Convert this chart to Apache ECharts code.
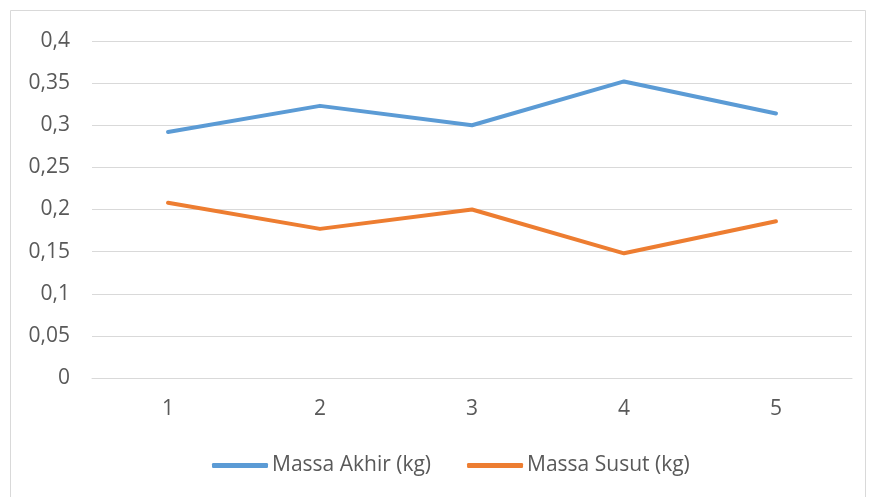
<!DOCTYPE html>
<html><head><meta charset="utf-8">
<script src="https://cdn.jsdelivr.net/npm/echarts@6/dist/echarts.min.js"></script>
<style>html,body{margin:0;padding:0;background:#fff}#c{width:869px;height:497px}</style>
</head><body><div id="c"></div>
<script>
const categories = ['1','2','3','4','5'];
const massaAkhir = [0.292, 0.323, 0.300, 0.352, 0.314];
const massaSusut = [0.208, 0.177, 0.200, 0.148, 0.186];
const seriesNames = ['Massa Akhir (kg)', 'Massa Susut (kg)'];
const fontFam = '"Open Sans", "Liberation Sans", sans-serif';
const chart = echarts.init(document.getElementById('c'));
chart.setOption({
  animation: false,
  backgroundColor: '#fff',
  graphic: [{type:'rect', shape:{x:10.5,y:10.5,width:855,height:500}, style:{fill:null, stroke:'#d9d9d9', lineWidth:1}}],
  grid: {left: 92, right: 17, top: 41, bottom: 119},
  legend: {
    data: seriesNames, top: 450, left: 207, itemWidth: 56, itemHeight: 5, itemGap: 36,
    icon: 'roundRect',
    textStyle: {fontFamily: fontFam, fontSize: 21, color: '#595959', padding:[0,0,0,-1]}
  },
  xAxis: {
    type: 'category', data: categories, boundaryGap: true,
    axisLine: {lineStyle: {color: '#d9d9d9', width: 1}},
    axisTick: {show: false},
    axisLabel: {fontFamily: fontFam, fontSize: 21, color: '#595959', margin: 21}
  },
  yAxis: {
    type: 'value', min: 0, max: 0.4, interval: 0.05,
    axisLine: {show: false}, axisTick: {show: false},
    splitLine: {lineStyle: {color: '#d9d9d9', width: 1}},
    axisLabel: {fontFamily: fontFam, fontSize: 21, color: '#595959', margin: 22,
      formatter: v => String(Math.round(v*100)/100).replace('.', ',')}
  },
  series: [
    {name: seriesNames[0], type: 'line', data: massaAkhir, symbol: 'none',
     lineStyle: {color: '#5b9bd5', width: 4, cap: 'round', join: 'round'}, itemStyle: {color: '#5b9bd5'}},
    {name: seriesNames[1], type: 'line', data: massaSusut, symbol: 'none',
     lineStyle: {color: '#ed7d31', width: 4, cap: 'round', join: 'round'}, itemStyle: {color: '#ed7d31'}}
  ]
});
</script></body></html>
